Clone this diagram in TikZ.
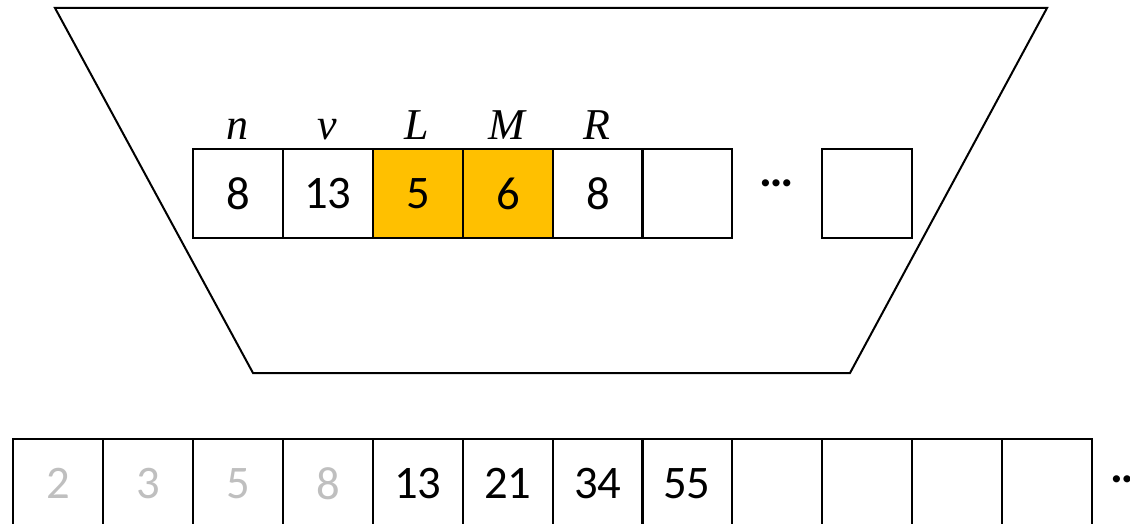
\documentclass[tikz,border=0pt]{standalone}
\usepackage{fontspec}
\setmainfont{Carlito}
\newfontfamily\lblfont{Liberation Serif}
\definecolor{hl}{HTML}{FFC000}
\definecolor{faded}{HTML}{BFBFBF}
\begin{document}
\begin{tikzpicture}[x=0.75pt,y=-0.75pt,
  cellbox/.style={draw=black,line width=1.5pt,minimum width=67.3pt,minimum height=66.8pt,inner sep=0pt,anchor=north west,font=\fontsize{35}{35}\selectfont},
  lbl/.style={font=\fontsize{33}{33}\selectfont\lblfont\itshape,inner sep=0pt},
  dotsty/.style={font=\fontsize{36}{36}\selectfont\bfseries,inner sep=0pt}]
\clip (0,0) rectangle (1130,524);
\useasboundingbox (0,0) rectangle (1130,524);
\fill[white] (0,0) rectangle (1130,524);
% trapezoid
\coordinate (tl) at (55,8);
\coordinate (tr) at (1047,8);
\coordinate (br) at (850,373);
\coordinate (bl) at (253,373);
\draw[line width=1.5pt,line join=miter] (tl) -- (tr) -- (br) -- (bl) -- cycle;
% top row
\node[cellbox] (a1) at (192,148) {8};
\node[cellbox] (a2) at (282,148) {13};
\node[cellbox,fill=hl] (a3) at (372,148) {5};
\node[cellbox,fill=hl] (a4) at (462,148) {6};
\node[cellbox] (a5) at (552,148) {8};
\node[cellbox] (a6) at (641,148) {};
\node[cellbox] (a7) at (821,148) {};
\node[dotsty] (d1) at (777,183) {…};
\node[lbl,anchor=base] (ln) at (237,140) {n};
\node[lbl,anchor=base] (lv) at (327,140) {v};
\node[lbl,anchor=base] (lL) at (417,140) {L};
\node[lbl,anchor=base] (lM) at (507,140) {M};
\node[lbl,anchor=base] (lR) at (597,140) {R};
% bottom row
\node[cellbox,text=faded] (b1) at (12,438) {2};
\node[cellbox,text=faded] (b2) at (102,438) {3};
\node[cellbox,text=faded] (b3) at (192,438) {5};
\node[cellbox,text=faded] (b4) at (282,438) {8};
\node[cellbox] (b5) at (372,438) {13};
\node[cellbox] (b6) at (462,438) {21};
\node[cellbox] (b7) at (552,438) {34};
\node[cellbox] (b8) at (641,438) {55};
\node[cellbox] (b9) at (731,438) {};
\node[cellbox] (b10) at (821,438) {};
\node[cellbox] (b11) at (911,438) {};
\node[cellbox] (b12) at (1001,438) {};
\node[dotsty,anchor=west] (d2) at (1110,479) {…};
\end{tikzpicture}
\end{document}
